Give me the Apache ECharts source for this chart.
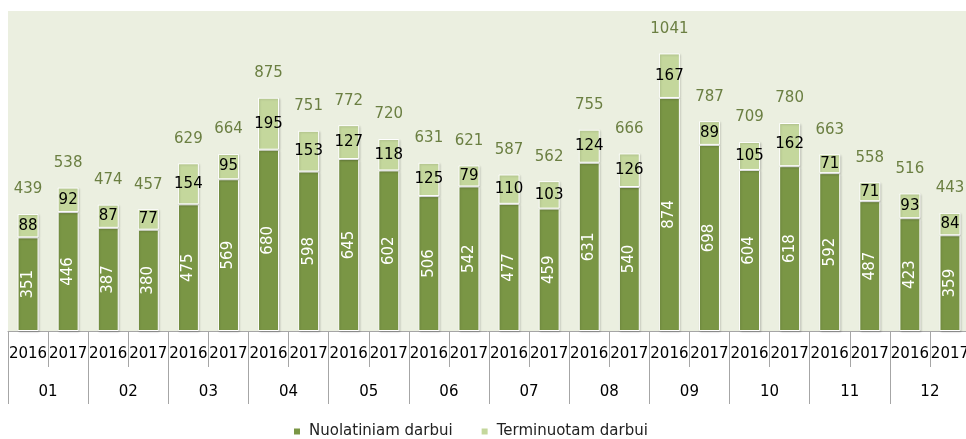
<!DOCTYPE html>
<html>
<head>
    <meta charset="UTF-8">
    <title>Darbui</title>
    <script src="https://cdn.jsdelivr.net/npm/echarts@6/dist/echarts.min.js"></script>
</head>
<body style="margin: 0; background: #fff">
    <div id="container" style="width: 966px; height: 439px"></div>
    <script type="text/javascript">
        // metai po kiekvienu menesiu
        var years = ['2016', '2017', '2016', '2017', '2016', '2017', '2016', '2017', '2016', '2017', '2016', '2017',
            '2016', '2017', '2016', '2017', '2016', '2017', '2016', '2017', '2016', '2017', '2016', '2017'];
        var months = ['01', '02', '03', '04', '05', '06', '07', '08', '09', '10', '11', '12'];
        var nuolatiniam = [351, 446, 387, 380, 475, 569, 680, 598, 645, 602, 506, 542,
            477, 459, 631, 540, 874, 698, 604, 618, 592, 487, 423, 359];
        var terminuotam = [88, 92, 87, 77, 154, 95, 195, 153, 127, 118, 125, 79,
            110, 103, 124, 126, 167, 89, 105, 162, 71, 71, 93, 84];

        var totals = nuolatiniam.map((x, i) => x + terminuotam[i]);
        var font = 'DejaVu Sans';

        var myChart = echarts.init(document.getElementById('container'));
        var option = {
            animation: false,
            textStyle: { fontFamily: font },
            grid: {
                show: true,
                left: 8,
                top: 11,
                width: 962,
                height: 320,
                outerBoundsMode: 'none',
                containLabel: false,
                backgroundColor: '#ebefe0',
                borderWidth: 0
            },
            legend: {
                left: 287,
                top: 419,
                itemWidth: 8,
                itemHeight: 8,
                itemGap: 27,
                icon: 'rect',
                textStyle: { fontFamily: font, fontSize: 15, color: '#222', padding: [0, 0, 0, 3] },
                data: ['Nuolatiniam darbui', 'Terminuotam darbui']
            },
            xAxis: [{
                type: 'category',
                data: years,
                position: 'bottom',
                axisLine: { lineStyle: { color: '#a6a6a6', width: 1 } },
                axisTick: { show: true, length: 36, interval: 0, lineStyle: { color: '#a6a6a6' } },
                axisLabel: { interval: 0, margin: 16, color: '#000', fontSize: 15, fontFamily: font }
            }, {
                type: 'category',
                data: months,
                position: 'bottom',
                axisLine: { show: false },
                axisTick: { show: true, length: 73, interval: 0, lineStyle: { color: '#a6a6a6' } },
                axisLabel: { interval: 0, margin: 54, color: '#000', fontSize: 15, fontFamily: font }
            }],
            yAxis: {
                type: 'value',
                min: 0,
                max: 1200,
                show: false,
                splitLine: { show: false }
            },
            series: [{
                name: 'Nuolatiniam darbui',
                type: 'bar',
                stack: 'viso',
                barWidth: 21,
                data: nuolatiniam,
                itemStyle: {
                    color: '#7a9645',
                    borderColor: '#fff',
                    borderWidth: 1,
                    shadowColor: 'rgba(0, 0, 0, 0.15)',
                    shadowBlur: 2,
                    shadowOffsetX: 1,
                    shadowOffsetY: 1
                },
                label: {
                    show: true,
                    position: 'inside',
                    rotate: 90,
                    color: '#fff',
                    fontSize: 15,
                    fontFamily: font
                }
            }, {
                name: 'Terminuotam darbui',
                type: 'bar',
                stack: 'viso',
                data: terminuotam,
                itemStyle: {
                    color: '#c4d79c',
                    borderColor: '#fff',
                    borderWidth: 1,
                    shadowColor: 'rgba(0, 0, 0, 0.15)',
                    shadowBlur: 2,
                    shadowOffsetX: 1,
                    shadowOffsetY: 1
                },
                label: {
                    show: true,
                    position: 'inside',
                    color: '#000',
                    fontSize: 15,
                    fontFamily: font
                }
            }, {
                // is viso, tik uzrasai virsuje
                name: 'viso',
                type: 'bar',
                stack: 'viso',
                data: totals.map(() => 0),
                itemStyle: { color: 'rgba(0,0,0,0)' },
                label: {
                    show: true,
                    position: 'top',
                    distance: 17,
                    color: '#6b7f42',
                    fontSize: 15,
                    fontFamily: font,
                    formatter: p => totals[p.dataIndex]
                }
            }]
        };
        myChart.setOption(option);
    </script>
</body>
</html>
